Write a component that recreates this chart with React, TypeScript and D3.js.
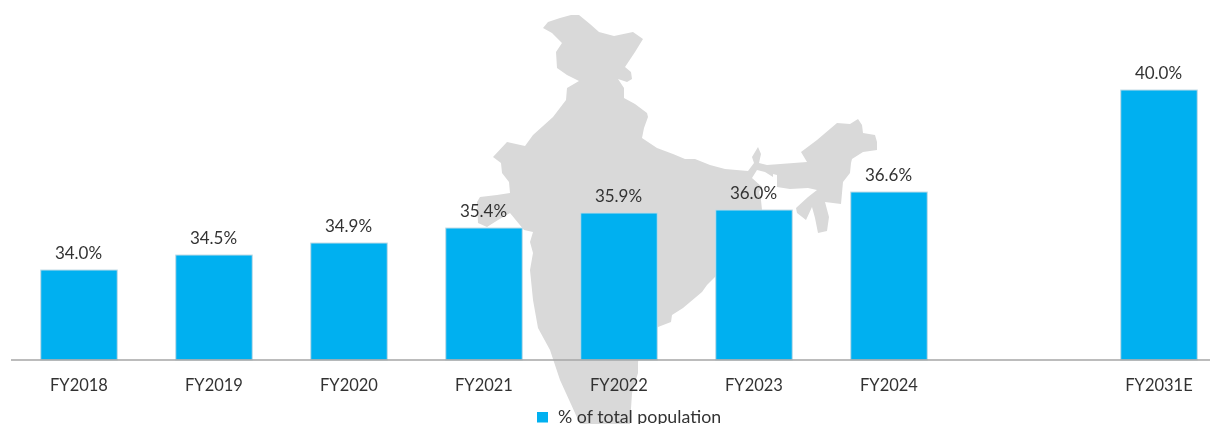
import React from 'react';
import * as d3 from 'd3';

const WIDTH = 1210;
const HEIGHT = 424;
const BASELINE = 360;

const categories = ['FY2018', 'FY2019', 'FY2020', 'FY2021', 'FY2022', 'FY2023', 'FY2024', 'FY2031E'];
const slots = ['FY2018', 'FY2019', 'FY2020', 'FY2021', 'FY2022', 'FY2023', 'FY2024', 'gap', 'FY2031E'];
const shareOfPopulation = [34.0, 34.5, 34.9, 35.4, 35.9, 36.0, 36.6, 40.0];
const legendLabel = '% of total population';

// backdrop map of India (not data)
const mapOutline: [number, number][] = [
  [543, 28], [548, 22], [560, 18], [571, 15], [579, 15], [590, 24], [599, 32], [614, 36], [633, 32], [643, 39],
  [635, 52], [625, 67], [631, 72], [632, 79], [627, 82], [618, 79], [624, 88], [624, 98], [635, 104], [647, 113],
  [648, 117], [644, 128], [642, 138], [657, 148], [673, 154], [685, 159], [695, 159], [710, 165], [725, 169], [748, 171],
  [754, 163], [752, 157], [758, 147], [761, 154], [759, 163], [767, 165], [807, 162], [801, 152], [817, 140], [837, 123],
  [850, 124], [858, 119], [862, 125], [863, 133], [875, 135], [877, 142], [877, 150], [863, 152], [852, 159], [851, 163],
  [850, 173], [843, 182], [841, 204], [825, 202], [829, 217], [827, 231], [818, 233], [815, 218], [812, 207], [806, 220],
  [797, 213], [796, 208], [808, 197], [817, 190], [808, 188], [790, 189], [777, 187], [777, 175], [773, 174], [773, 177],
  [765, 172], [757, 170], [752, 178], [762, 187], [759, 192], [761, 200], [762, 210], [760, 240], [715, 277], [707, 285],
  [702, 292], [683, 308], [672, 315], [671, 322], [658, 327], [640, 340], [638, 363], [638, 373], [632, 393], [630, 424],
  [580, 424], [575, 413], [560, 380], [550, 350], [538, 328], [533, 300], [530, 270], [533, 253], [530, 242], [533, 232],
  [524, 230], [510, 213], [498, 220], [487, 227], [478, 223], [477, 202], [480, 197], [497, 195], [510, 193], [509, 182],
  [502, 173], [501, 163], [493, 157], [507, 142], [525, 146], [533, 135], [553, 117], [566, 100], [567, 88], [579, 81],
  [567, 75], [557, 68], [556, 52], [562, 43], [552, 33],
];

const FONT = 'Lato, Carlito, sans-serif';
const TEXT_COLOR = '#333333';
const BAR_COLOR = '#00b0f0';

const App = () => {
  const x = d3.scaleBand<string>().domain(slots).range([11.5, 1226.5]).paddingInner(0.433).paddingOuter(0.2165);
  const y = d3.scaleLinear().domain([31, 40]).range([BASELINE, 90]);
  const mapPath = d3.line()(mapOutline) + 'Z';

  return (
    <svg
      width={WIDTH}
      height={HEIGHT}
      style={{ position: 'absolute', left: 0, top: 0, display: 'block', fontFamily: FONT }}
    >
      {/* the reference is a slightly soft screenshot */}
      <filter id="soft" x="0" y="0" width="100%" height="100%">
        <feGaussianBlur stdDeviation={0.35} />
      </filter>

      <g filter="url(#soft)">
        <rect width={WIDTH} height={HEIGHT} fill="#ffffff" />
        <path d={mapPath} fill="#d9d9d9" />

        {categories.map((c, i) => (
          <g key={c}>
            <rect
              x={x(c)}
              y={y(shareOfPopulation[i])}
              width={x.bandwidth()}
              height={BASELINE - y(shareOfPopulation[i])}
              fill={BAR_COLOR}
              stroke="#c4dbe6"
              strokeWidth={1}
            />
            <text
              x={x(c)! + x.bandwidth() / 2 - 0.5}
              y={y(shareOfPopulation[i]) - 11}
              textAnchor="middle"
              fontSize={17}
              fill={TEXT_COLOR}
            >
              {shareOfPopulation[i].toFixed(1)}%
            </text>
            <text x={x(c)! + x.bandwidth() / 2} y={391} textAnchor="middle" fontSize={16.5} fill={TEXT_COLOR}>
              {c}
            </text>
          </g>
        ))}

        <line x1={11} x2={WIDTH} y1={BASELINE} y2={BASELINE} stroke="#a6a6a6" strokeWidth={1.6} />

        <rect x={537} y={412} width={11} height={10.5} fill={BAR_COLOR} />
        <text x={558} y={422.5} fontSize={17.8} fill={TEXT_COLOR}>
          {legendLabel}
        </text>
      </g>
    </svg>
  );
};

export default App;
